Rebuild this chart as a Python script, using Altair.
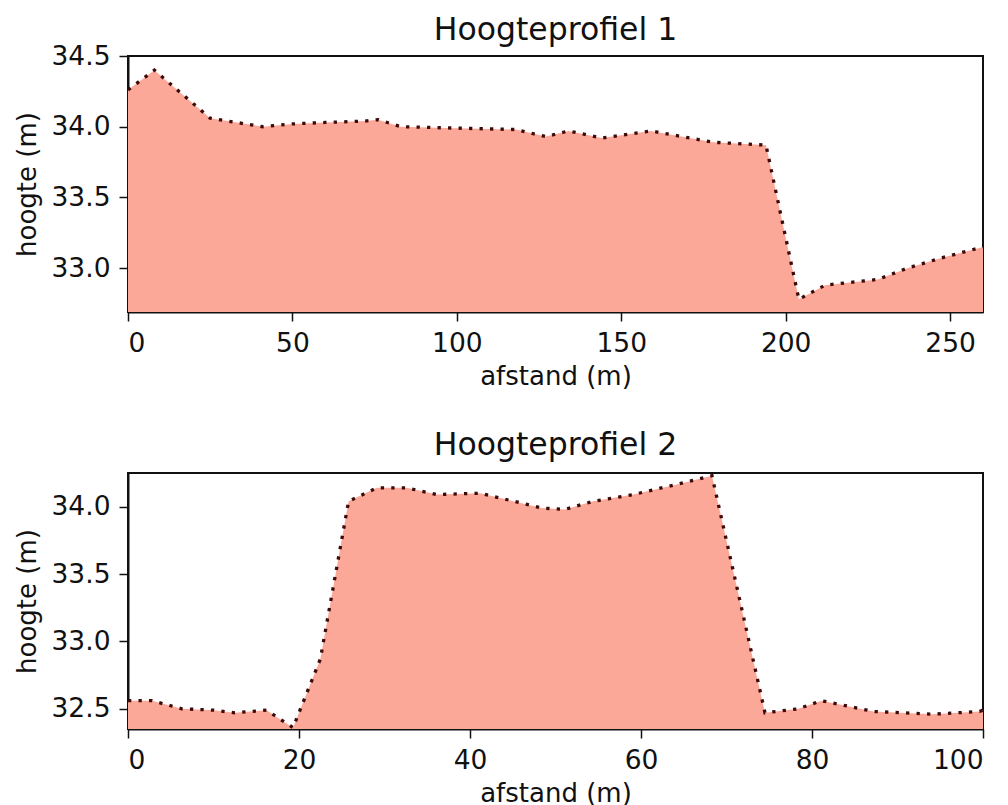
import altair as alt
import pandas as pd

# Hoogteprofiel 1
top_dist = [0, 8, 25, 41, 50, 60, 72, 76, 83, 100, 118, 127, 134, 144, 159, 178, 194, 204, 212, 228, 237, 247, 260]
top_height = [34.26, 34.40, 34.06, 34.00, 34.02, 34.03, 34.04, 34.05, 34.00, 33.99, 33.98, 33.93, 33.97, 33.92,
              33.97, 33.89, 33.87, 32.78, 32.88, 32.92, 33.00, 33.07, 33.15]

# Hoogteprofiel 2
bot_dist = [0, 2.8, 6.3, 10, 12.5, 16.2, 19.3, 22.5, 25.8, 29.1, 32.6, 36.1, 41.2, 48.4, 51.1, 54.4, 59.1, 63.8,
            68.3, 74.5, 78.4, 81.1, 87.2, 94.2, 99.6, 100]
bot_height = [32.56, 32.56, 32.50, 32.49, 32.47, 32.49, 32.36, 32.87, 34.04, 34.14, 34.14, 34.09, 34.10, 33.99,
              33.98, 34.04, 34.09, 34.16, 34.23, 32.47, 32.50, 32.56, 32.48, 32.46, 32.48, 32.49]

top_xticks = [0, 50, 100, 150, 200, 250]
top_yticks = [33.0, 33.5, 34.0, 34.5]
bot_xticks = [0, 20, 40, 60, 80, 100]
bot_yticks = [32.5, 33.0, 33.5, 34.0]

FILL = "#FCA898"
LINE = "#3d0a0a"
FONT = "DejaVu Sans"


def panel(dist, height, title, xdom, ydom, xticks, yticks, title_offset):
    df = pd.DataFrame({"d": dist, "h": height})
    x = alt.X("d:Q", scale=alt.Scale(domain=xdom, nice=False, zero=False),
              axis=alt.Axis(values=xticks, title="afstand (m)", format="d", labelPadding=9, titlePadding=7))
    y = alt.Y("h:Q", scale=alt.Scale(domain=ydom, nice=False, zero=False),
              axis=alt.Axis(values=yticks, title="hoogte (m)", format=".1f", labelPadding=9, titlePadding=10))
    base = alt.Chart(df)
    area = base.mark_area(color=FILL, opacity=1, clip=True).encode(x=x, y=y, y2=alt.datum(ydom[0]))
    line = base.mark_line(color=LINE, strokeWidth=3.3, strokeDash=[3.3, 7.2], strokeCap="butt", clip=True).encode(x=x, y=y)
    return (area + line).properties(
        width=855, height=256,
        title=alt.TitleParams(title, fontSize=31.5, font=FONT, fontWeight="normal", color="#111111",
                              offset=title_offset, frame="group"),
    )


c1 = panel(top_dist, top_height, "Hoogteprofiel 1", [0, 260], [32.69, 34.5], top_xticks, top_yticks, -3)
c2 = panel(bot_dist, bot_height, "Hoogteprofiel 2", [0, 100], [32.35, 34.25], bot_xticks, bot_yticks, 12)

chart = alt.vconcat(c1, c2, spacing=37).properties(
    padding={"left": 5, "top": 5, "right": 5, "bottom": 0}
).configure_view(
    stroke="#111111", strokeWidth=2
).configure_axis(
    labelFont=FONT, titleFont=FONT, labelFontSize=26.5, titleFontSize=26,
    labelColor="#111111", titleColor="#111111", tickColor="#111111", domainColor="#111111",
    tickSize=9, tickWidth=1.5, domainWidth=2, grid=False,
    titleFontWeight="normal",
)

chart.save("out.html", embed_options={"renderer": "svg", "actions": False})
